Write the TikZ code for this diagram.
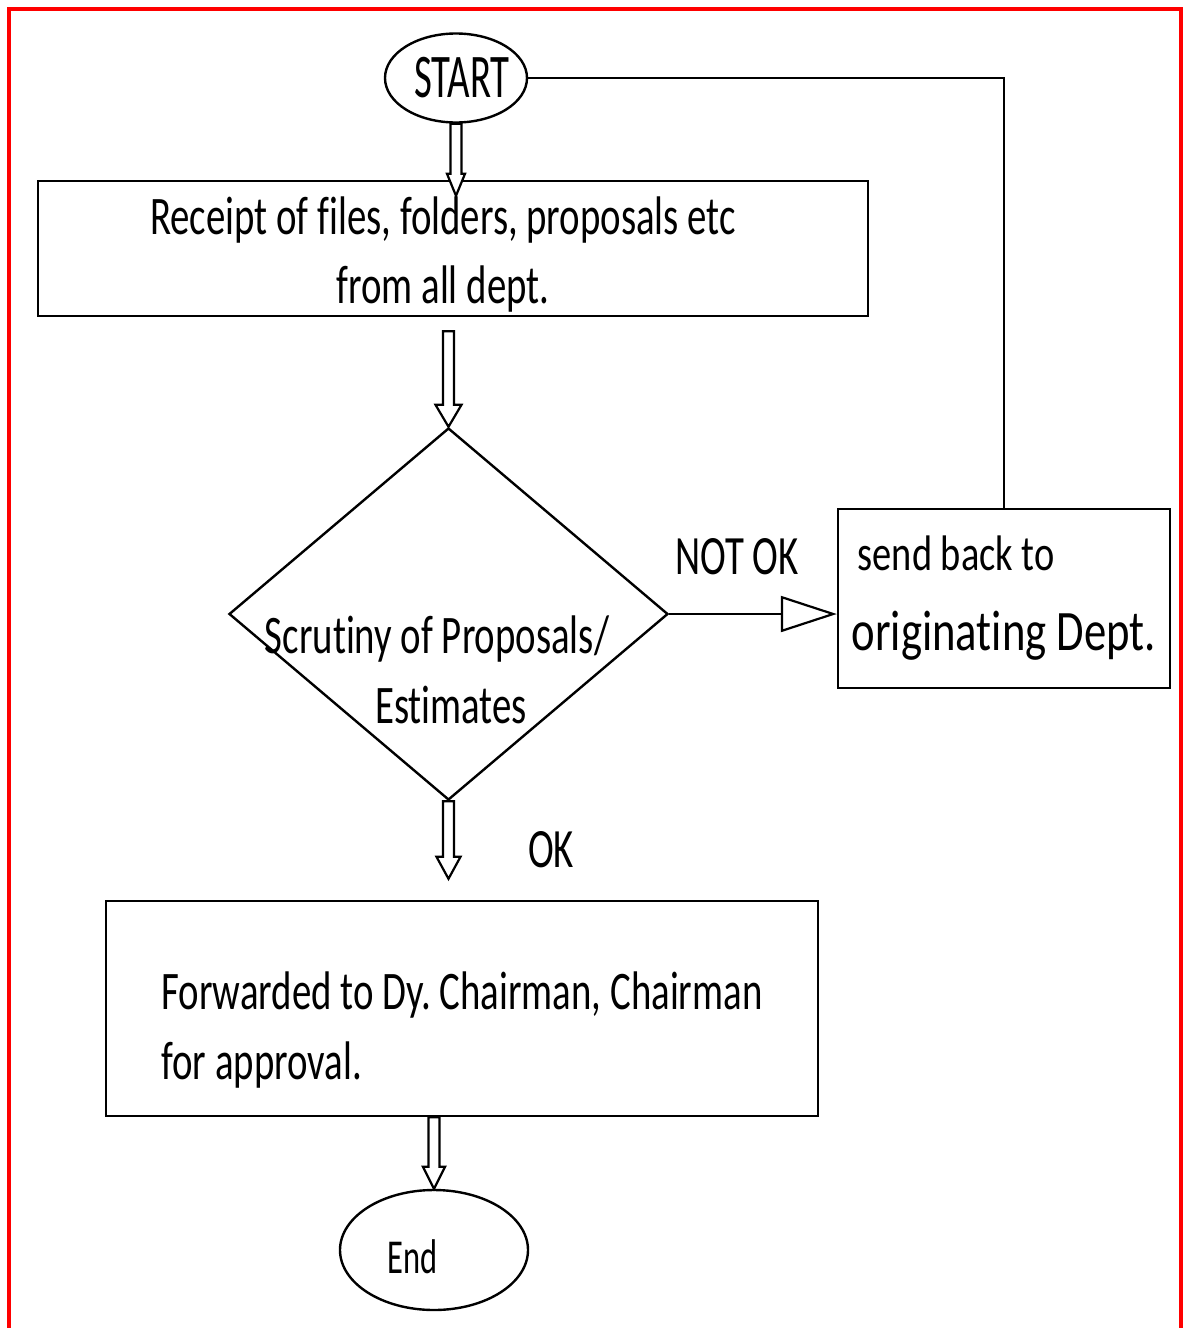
\documentclass[tikz,border=0pt]{standalone}
\usepackage{fontspec}
\setmainfont{Carlito}[RawFeature={-liga;-clig;-dlig}]
\usepackage{graphicx}
\usetikzlibrary{shapes.geometric,arrows.meta,calc}
\frenchspacing

\newcommand{\tall}[2][1.4]{\scalebox{1}[#1]{#2}}
% hollow block arrow pointing down
\newcommand{\fatarrow}[3][12]{%
  \draw[line width=2.2pt,fill=white,line join=miter]
    ($(#2)+(-5.5,0)$) -- ($(#2 |- #3)+(-5.5,-22)$) -- ($(#2 |- #3)+(-#1,-22)$)
    -- (#2 |- #3) -- ($(#2 |- #3)+(#1,-22)$) -- ($(#2 |- #3)+(5.5,-22)$)
    -- ($(#2)+(5.5,0)$) -- cycle;}

\tikzset{
  terminal/.style={ellipse,draw,line width=2.4pt,inner sep=0pt},
  procbox/.style={rectangle,draw,line width=2.4pt,inner sep=6pt},
  decision/.style={diamond,draw,line width=2.4pt,inner sep=0pt},
  txt/.style={font=\fontsize{38.8pt}{70pt}\selectfont},
}

\begin{document}
\begin{tikzpicture}[x=1pt,y=-1pt,txt]
        \useasboundingbox (0,0) rectangle (1190,1328);
        \draw[red,line width=4pt] (9,1328) -- (9,9) -- (1181,9) -- (1181,1328);

        \node[terminal,minimum width=142pt,minimum height=89pt] (start) at (456,78)
            {\makebox[0pt]{\hspace*{12pt}\tall[1.6]{START}}};
        \node[procbox,minimum width=830pt,minimum height=135pt,align=center,inner ysep=0pt,
              font=\fontsize{38.8pt}{69pt}\selectfont] (recv) at (453,248.5)
            {\rule{0pt}{50pt}\tall{Receipt of files, folders, proposals etc}\hspace*{20pt}\\
             \tall{from all dept.}\hspace*{20pt}};
        \node[decision,minimum width=439pt,minimum height=372pt] (check) at (448.5,614) {};
        \node[align=center,inner sep=0pt] (checktxt) at (437,670)
            {\tall{Scrutiny of Proposals/}\\ \hspace*{28pt}\tall{Estimates}};
        \node[procbox,minimum width=332pt,minimum height=179pt,align=left,inner sep=0pt,
              font=\fontsize{44.7pt}{80pt}\selectfont] (back) at (1004,598.5)
            {{\fontsize{38.4pt}{80pt}\selectfont\hspace*{6pt}\tall[1.3]{send back to}}\\
             \tall[1.28]{originating Dept.}};
        \node[procbox,minimum width=712pt,minimum height=215pt,align=left] (fwd) at (462,1008.5)
            {\rule{0pt}{80pt}\tall{Forwarded to Dy. Chairman, Chairman}\\
             \tall{for approval.}};
        \node[terminal,minimum width=188pt,minimum height=120pt,font=\fontsize{32.5pt}{40pt}\selectfont]
            (finish) at (434,1250) {\rule{0pt}{48pt}\tall[1.5]{End}\hspace*{42pt}};

        \node (notok) at (737,557) {\tall[1.43]{NOT OK}};
        \node (ok) at (551,850) {\tall[1.43]{OK}};

        % block arrows
        \coordinate (recvin) at ($(start.south |- recv.north)+(0,16)$);
        \coordinate (a2top) at ($(check.north |- recv.south)+(0,14)$);
        \coordinate (a3tip) at ($(check.south |- fwd.north)+(0,-21)$);
        \coordinate (a4top) at (finish.north |- fwd.south);
        \fatarrow[9]{start.south}{recvin}
        \fatarrow[13]{a2top}{check.north}
        \fatarrow{check.south}{a3tip}
        \fatarrow[11]{a4top}{finish.north}

        \draw[line width=2.4pt,-{Triangle[open,length=56pt,width=36pt,line width=2.2pt]}]
            (check.east) -- (check.east -| back.west);
        \draw[line width=2.4pt] (start.east) -- (start.east -| back.north) -- (back.north);
    \end{tikzpicture}
\end{document}
